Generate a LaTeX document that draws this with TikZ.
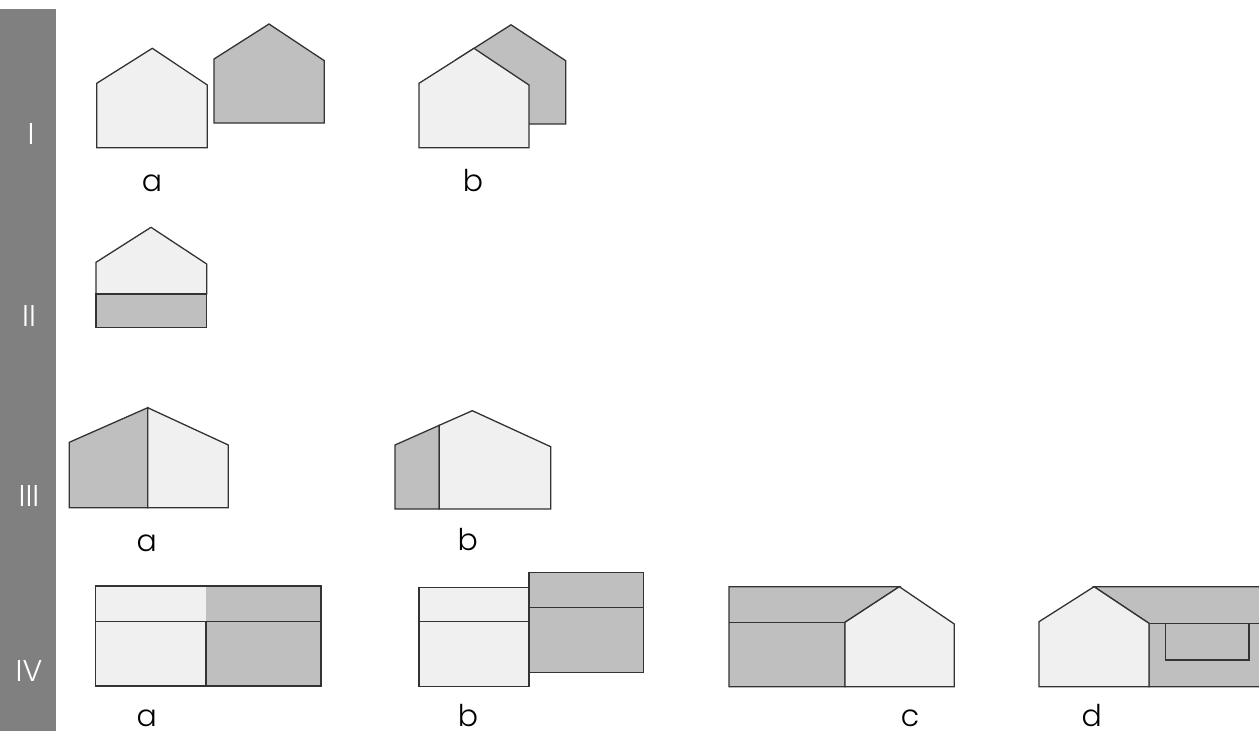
\documentclass[tikz,border=0pt]{standalone}
\usepackage{fontspec}
\setmainfont{Poppins}[UprightFont={* Light}]
\definecolor{lite}{HTML}{F0F0F0}
\definecolor{dark}{HTML}{BFBFBF}
\definecolor{barcol}{HTML}{808080}
\definecolor{edgecol}{HTML}{333333}
\begin{document}
\begin{tikzpicture}[x=1pt,y=-1pt,
  lt/.style={fill=lite,draw=edgecol,line width=1.3pt},
  dk/.style={fill=dark,draw=edgecol,line width=1.3pt},
  ln/.style={draw=edgecol,line width=1.3pt},
  lab/.style={font=\fontsize{30}{32}\selectfont,text=black,anchor=base,inner sep=0pt},
  num/.style={font=\fontsize{30}{32}\selectfont,text=white,anchor=base,inner sep=0pt}]
\useasboundingbox (0,0) rectangle (1259,731);
\fill[barcol] (0,9) rectangle (55.7,731);
\node[num] (n1) at (31,144) {I};
\node[num] (n2) at (29,326) {II};
\node[num] (n3) at (29,506) {III};
\node[num] (n4) at (29,681) {IV};
% Row I a
\draw[lt] (96.7,147.7) -- (96.7,83.3) -- (152.3,48.3) -- (207.3,85) -- (207.3,147.7) -- cycle;
\draw[dk] (214,123) -- (214,59) -- (269,24) -- (324.3,60.7) -- (324.3,123) -- cycle;
\node[lab] (la1) at (152,191.7) {a};
% Row I b
\draw[dk] (456,124) -- (456,59.8) -- (511,24.8) -- (565.7,60.7) -- (565.7,124) -- cycle;
\draw[lt] (419,147.7) -- (419,83.3) -- (474,48.3) -- (529,85) -- (529,147.7) -- cycle;
\node[lab] (lb1) at (473,191.7) {b};
% Row II
\draw[lt] (96,294) -- (96,262.3) -- (151,227.3) -- (206.7,264) -- (206.7,294) -- cycle;
\draw[dk] (96,294) rectangle (206.7,327.3);
% Row III a
\draw[dk] (69.3,507.7) -- (69.3,442.3) -- (147.7,407.7) -- (147.7,507.7) -- cycle;
\draw[lt] (147.7,407.7) -- (228.3,445) -- (228.3,507.7) -- (147.7,507.7) -- cycle;
\node[lab] (la3) at (146.7,551) {a};
% Row III b
\draw[dk] (395,509) -- (395,445) -- (439.3,425.3) -- (439.3,509) -- cycle;
\draw[lt] (439.3,425.3) -- (472.3,410.7) -- (550.7,446.7) -- (550.7,509) -- (439.3,509) -- cycle;
\node[lab] (lb3) at (467.7,550) {b};
% Row IV a
\fill[lite] (95.7,586) rectangle (206,686);
\fill[dark] (206,586) rectangle (321,686);
\draw[ln] (95.7,586) rectangle (321,686);
\draw[ln] (95.7,621.7) -- (321,621.7);
\draw[ln] (206,621.7) -- (206,686);
\node[lab] (la4) at (146.7,726.5) {a};
% Row IV b
\draw[lt] (419,587.3) rectangle (529,686.7);
\draw[ln] (419,621.7) -- (529,621.7);
\draw[dk] (529,572.7) rectangle (643.3,672.7);
\draw[ln] (529,607.3) -- (643.3,607.3);
\node[lab] (lb4) at (468,726.5) {b};
% Row IV c
\draw[dk] (729,686.7) -- (729,586.7) -- (899.3,586.7) -- (845,622.3) -- (845,686.7) -- cycle;
\draw[ln] (729,622.3) -- (845,622.3);
\draw[lt] (845,686.7) -- (845,622.3) -- (899.3,586.7) -- (954.3,624) -- (954.3,686.7) -- cycle;
\node[lab] (lc4) at (910,726.5) {c};
% Row IV d
\fill[dark] (1149,686.7) -- (1149,623.3) -- (1094,586.7) -- (1260,586.7) -- (1260,686.7) -- cycle;
\draw[ln] (1260,586.7) -- (1094,586.7) -- (1149,623.3) -- (1149,686.7) -- (1260,686.7);
\draw[ln] (1149,623.3) -- (1260,623.3);
\draw[ln] (1165.7,623.3) rectangle (1249,660);
\draw[lt] (1039,686.7) -- (1039,621.7) -- (1094,586.7) -- (1149,623.3) -- (1149,686.7) -- cycle;
\node[lab] (ld4) at (1091.7,726.5) {d};
\end{tikzpicture}
\end{document}
